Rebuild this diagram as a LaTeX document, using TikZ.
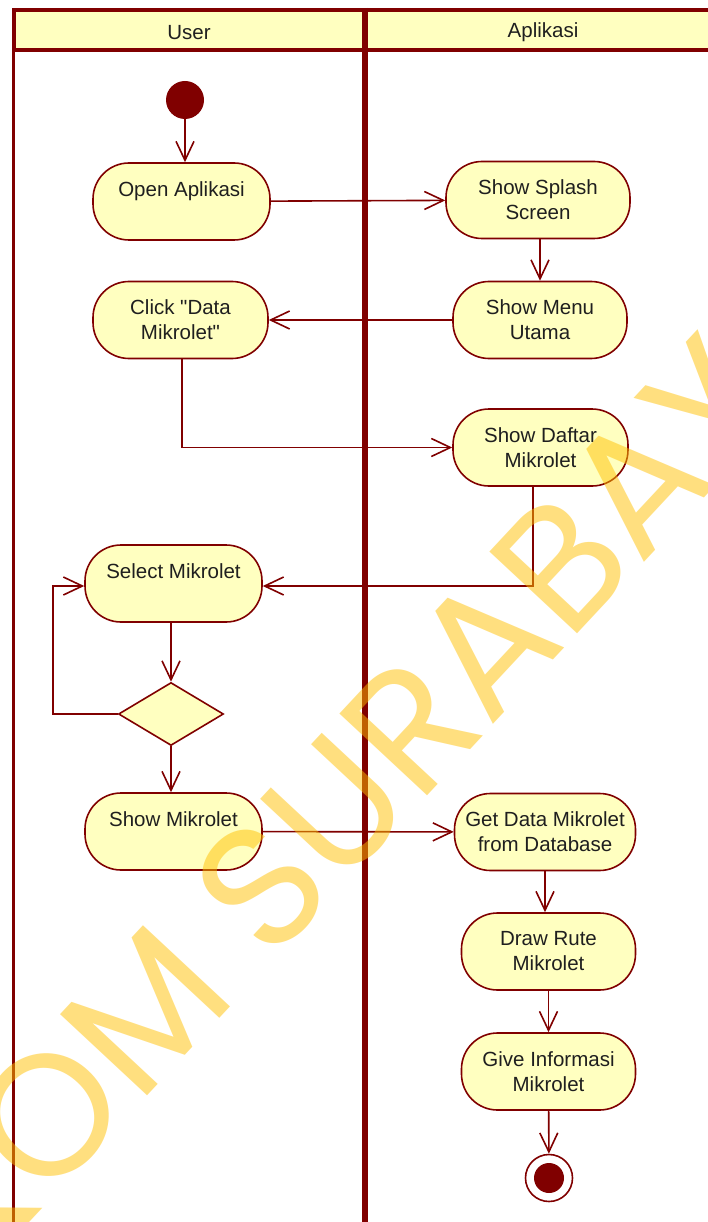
\documentclass[tikz,border=0pt]{standalone}
\usepackage{fontspec}
\setmainfont{Liberation Sans}[Ligatures=TeXOff]
\newfontfamily\wmfont{Poppins}
\usetikzlibrary{arrows.meta,shapes.geometric}
\definecolor{umlred}{HTML}{800000}
\definecolor{umlfill}{HTML}{FFFFC0}
\definecolor{wmcolor}{HTML}{FFC000}
\begin{document}
\begin{tikzpicture}[x=1pt,y=-1pt,
  act/.style={draw=umlred, line width=1.6pt, fill=umlfill, rounded corners=36pt,
    minimum height=77pt, inner sep=0pt, align=center, text=black!88,
    font=\fontsize{20.5}{25}\selectfont},
  flow/.style={draw=umlred, line width=1.6pt,
    -{Straight Barb[length=19pt,width=18pt,line width=1.6pt]}},
  lane/.style={draw=umlred},
  lanetitle/.style={text=black!88, font=\fontsize{20.5}{25}\selectfont, inner sep=0pt},
  wm/.style={text=wmcolor, opacity=0.5, rotate=47, inner sep=0pt,
    font=\wmfont\fontsize{172}{172}\selectfont}
]
\useasboundingbox (0,0) rectangle (707,1222);
\fill[white] (0,0) rectangle (707,1222);

% swimlanes
\draw[lane, fill=umlfill, line width=4pt] (14,10) rectangle (730,50);
\draw[lane, line width=3pt] (13.5,50) -- (13.5,1230);
\draw[lane, line width=5.5pt] (365,8) -- (365,1230);
\node[lanetitle] (lUser) at (189,32.5) {User};
\node[lanetitle] (lApp) at (543,32.5) {Aplikasi};

% start / end
\node[circle, fill=umlred, minimum size=38pt, inner sep=0pt] (start) at (185,100) {};
\node[circle, draw=umlred, line width=1.6pt, fill=white, minimum size=47pt, inner sep=0pt] (end) at (549,1178) {};
\node[circle, fill=umlred, minimum size=30pt, inner sep=0pt] (endin) at (end.center) {};

% activities, user lane
\node[act, minimum width=177pt] (open)  at (181.5,201.5) {Open Aplikasi\\\mbox{}};
\node[act, minimum width=175pt] (click) at (180.5,320)   {Click "Data\\Mikrolet"};
\node[act, minimum width=177pt] (sel)   at (173.5,583.5) {Select Mikrolet\\\mbox{}};
\node[diamond, draw=umlred, line width=1.6pt, fill=umlfill, minimum width=105pt,
      minimum height=63pt, inner sep=0pt] (dec) at (171,714) {};
\node[act, minimum width=177pt] (showm) at (173.5,831.5) {Show Mikrolet\\\mbox{}};

% activities, application lane
\node[act, minimum width=184pt] (splash) at (538,200)    {Show Splash\\Screen};
\node[act, minimum width=174pt] (menu)   at (540,320)    {Show Menu\\Utama};
\node[act, minimum width=175pt] (daftar) at (540.5,447.5) {Show Daftar\\Mikrolet};
\node[act, minimum width=181pt] (getd)   at (545,832)    {Get Data Mikrolet\\from Database};
\node[act, minimum width=174pt] (draw)   at (548.5,951.5) {Draw Rute\\Mikrolet};
\node[act, minimum width=174pt] (give)   at (548.5,1071.5) {Give Informasi\\Mikrolet};

% transitions
\draw[flow] (start) -- (start |- open.north);
\draw[flow] (open) -- (splash);
\draw[flow] (splash.south -| menu.north) -- (menu.north);
\draw[flow] (menu) -- (click);
\draw[flow] ([xshift=1.5pt]click.south) |- (daftar.west);
\draw[flow] ([xshift=-7.5pt]daftar.south) |- ([yshift=-2.5pt]sel.east);
\draw[flow] (sel.south -| dec.north) -- (dec.north);
\coordinate (loop) at (53,714);
\draw[flow] (dec.west) -- (loop) |- ([yshift=-2.5pt]sel.west);
\draw[flow] (dec.south) -- (dec.south |- showm.north);
\draw[flow] (showm) -- (getd);
\draw[flow] (getd.south) -- (getd.south |- draw.north);
\draw[flow] (draw) -- (give);
\draw[flow] (give) -- (end);

% watermark
\coordinate (wmref) at (138,1106);
\node[wm, anchor=base east] (wmA) at (wmref) {STIKO};
\node[wm, anchor=base west] (wmB) at (wmref) {M SURABAYA};
\end{tikzpicture}
\end{document}
